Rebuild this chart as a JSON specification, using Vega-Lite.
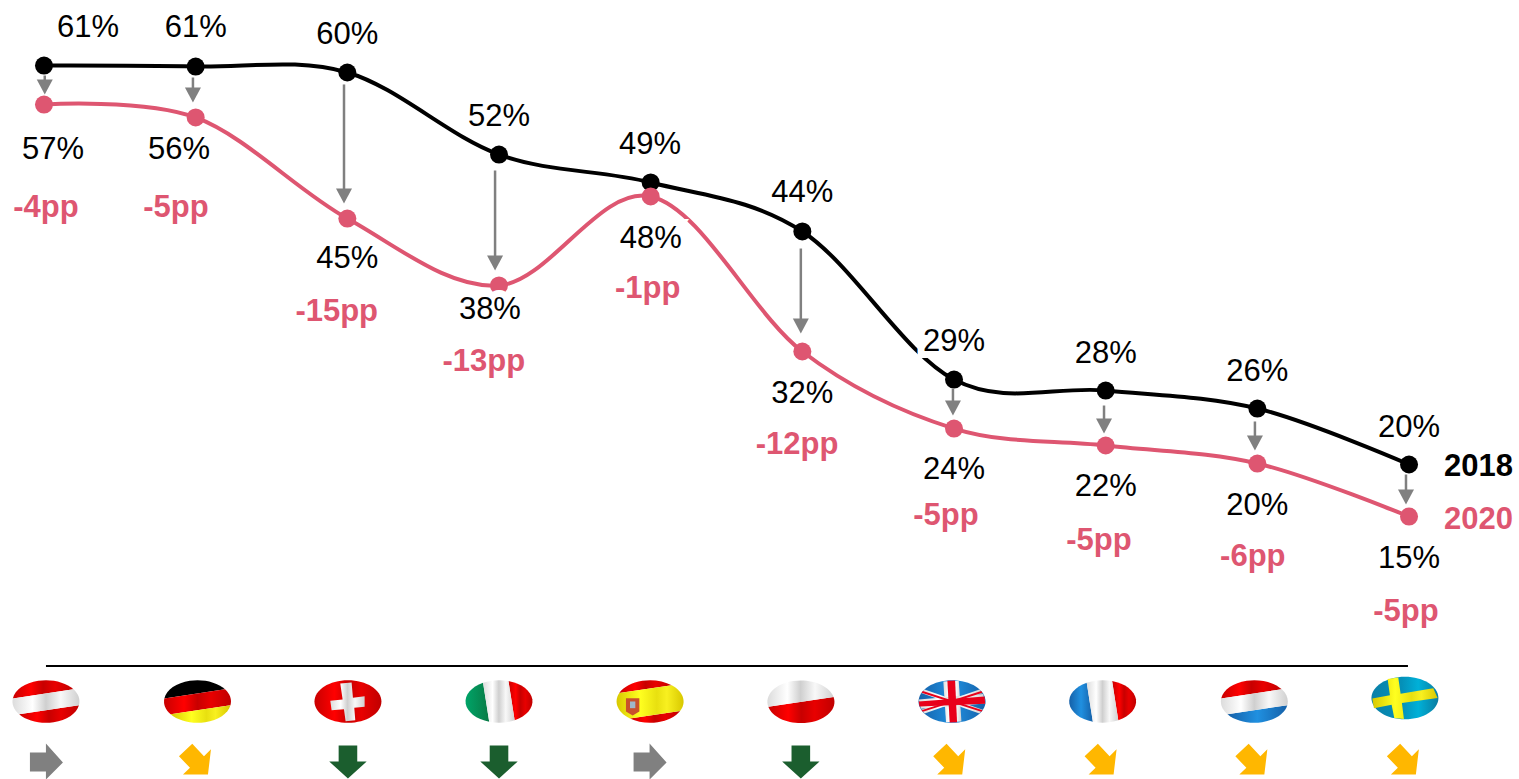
{"$schema":"https://vega.github.io/schema/vega-lite/v6.json","width":1519,"height":779,"padding":0,"autosize":{"type":"none"},"background":"white","config":{"view":{"stroke":null},"text":{"font":"Liberation Sans"}},
"datasets":{
"series":[
{"country":"Austria","pos":0,"series":"2018","level":60.71},{"country":"Germany","pos":1,"series":"2018","level":60.61},{"country":"Switzerland","pos":2,"series":"2018","level":60},{"country":"Italy","pos":3,"series":"2018","level":51.63},{"country":"Spain","pos":4,"series":"2018","level":48.78},{"country":"Poland","pos":5,"series":"2018","level":43.78},{"country":"UK","pos":6,"series":"2018","level":28.67},{"country":"France","pos":7,"series":"2018","level":27.55},{"country":"Netherlands","pos":8,"series":"2018","level":25.71},{"country":"Sweden","pos":9,"series":"2018","level":20},
{"country":"Austria","pos":0,"series":"2020","level":56.73},{"country":"Germany","pos":1,"series":"2020","level":55.41},{"country":"Switzerland","pos":2,"series":"2020","level":45.1},{"country":"Italy","pos":3,"series":"2020","level":38.27},{"country":"Spain","pos":4,"series":"2020","level":47.35},{"country":"Poland","pos":5,"series":"2020","level":31.53},{"country":"UK","pos":6,"series":"2020","level":23.67},{"country":"France","pos":7,"series":"2020","level":21.94},{"country":"Netherlands","pos":8,"series":"2020","level":20.1},{"country":"Sweden","pos":9,"series":"2020","level":14.69}],
"drops":[
{"country":"Austria","pos":0.005,"level":59.69,"tip":57.76},{"country":"Germany","pos":0.982,"level":59.49,"tip":56.94},{"country":"Switzerland","pos":1.978,"level":58.78,"tip":46.63},{"country":"Italy","pos":2.974,"level":50,"tip":39.8},{"country":"Poland","pos":4.99,"level":42.04,"tip":33.37},{"country":"UK","pos":5.993,"level":27.76,"tip":25},{"country":"France","pos":6.989,"level":26.02,"tip":23.16},{"country":"Netherlands","pos":7.984,"level":24.39,"tip":21.43},{"country":"Sweden","pos":8.98,"level":18.98,"tip":15.92}],
"labels":[
{"country":"Austria","kind":"v2018","pos":0.29,"level":64.69,"text":"61%"},{"country":"Germany","kind":"v2018","pos":1,"level":64.69,"text":"61%"},{"country":"Switzerland","kind":"v2018","pos":2,"level":63.98,"text":"60%"},{"country":"Italy","kind":"v2018","pos":3,"level":55.61,"text":"52%"},{"country":"Spain","kind":"v2018","pos":3.996,"level":52.76,"text":"49%"},{"country":"Poland","kind":"v2018","pos":5,"level":47.86,"text":"44%"},{"country":"UK","kind":"v2018","pos":6,"level":32.65,"text":"29%"},{"country":"France","kind":"v2018","pos":7,"level":31.43,"text":"28%"},{"country":"Netherlands","kind":"v2018","pos":8,"level":29.59,"text":"26%"},{"country":"Sweden","kind":"v2018","pos":9,"level":23.88,"text":"20%"},
{"country":"Austria","kind":"v2020","pos":0.059,"level":52.24,"text":"57%"},{"country":"Germany","kind":"v2020","pos":0.89,"level":52.24,"text":"56%"},{"country":"Switzerland","kind":"v2020","pos":2,"level":41.12,"text":"45%"},{"country":"Italy","kind":"v2020","pos":2.94,"level":35.92,"text":"38%"},{"country":"Spain","kind":"v2020","pos":4,"level":43.16,"text":"48%"},{"country":"Poland","kind":"v2020","pos":5,"level":27.35,"text":"32%"},{"country":"UK","kind":"v2020","pos":6,"level":19.59,"text":"24%"},{"country":"France","kind":"v2020","pos":7,"level":17.86,"text":"22%"},{"country":"Netherlands","kind":"v2020","pos":8,"level":15.92,"text":"20%"},{"country":"Sweden","kind":"v2020","pos":9,"level":10.51,"text":"15%"},
{"country":"Austria","kind":"change","pos":0.013,"level":46.33,"text":"-4pp"},{"country":"Germany","kind":"change","pos":0.87,"level":46.33,"text":"-5pp"},{"country":"Switzerland","kind":"change","pos":1.93,"level":35.71,"text":"-15pp"},{"country":"Italy","kind":"change","pos":2.9,"level":30.61,"text":"-13pp"},{"country":"Spain","kind":"change","pos":3.98,"level":38.06,"text":"-1pp"},{"country":"Poland","kind":"change","pos":4.965,"level":22.14,"text":"-12pp"},{"country":"UK","kind":"change","pos":5.947,"level":14.9,"text":"-5pp"},{"country":"France","kind":"change","pos":6.956,"level":12.35,"text":"-5pp"},{"country":"Netherlands","kind":"change","pos":7.97,"level":10.71,"text":"-6pp"},{"country":"Sweden","kind":"change","pos":8.98,"level":5.1,"text":"-5pp"}],
"years":[{"series":"2018","pos":9.23,"level":19.8},{"series":"2020","pos":9.23,"level":14.49}],
"base":[{"pos":0.013,"pos2":8.993,"level":-0.55}],
"trends":[
{"country":"Austria","trend":"flat","pos":0.016,"level":-10.41},{"country":"Germany","trend":"slight","pos":1.002,"level":-10.41},{"country":"Switzerland","trend":"strong","pos":2.004,"level":-10.41},{"country":"Italy","trend":"strong","pos":3,"level":-10.41},{"country":"Spain","trend":"flat","pos":3.996,"level":-10.41},{"country":"Poland","trend":"strong","pos":4.99,"level":-10.41},{"country":"UK","trend":"slight","pos":5.975,"level":-10.41},{"country":"France","trend":"slight","pos":6.973,"level":-10.41},{"country":"Netherlands","trend":"slight","pos":7.967,"level":-10.41},{"country":"Sweden","trend":"slight","pos":8.966,"level":-10.41}],
"flags":[
{"country":"Austria","pos":0.013,"level":-4.18,"part":"hTop","tone":"red"},{"country":"Austria","pos":0.013,"level":-4.18,"part":"hMid","tone":"white"},{"country":"Austria","pos":0.013,"level":-4.18,"part":"hBot","tone":"red"},
{"country":"Germany","pos":1.012,"level":-4.18,"part":"hTop","tone":"black"},{"country":"Germany","pos":1.012,"level":-4.18,"part":"hMid","tone":"red"},{"country":"Germany","pos":1.012,"level":-4.18,"part":"hBot","tone":"yellow"},
{"country":"Switzerland","pos":2.004,"level":-4.18,"part":"full","tone":"red"},{"country":"Switzerland","pos":2.004,"level":-4.18,"part":"swissCross","tone":"white"},
{"country":"Italy","pos":3,"level":-4.18,"part":"vLeft","tone":"green"},{"country":"Italy","pos":3,"level":-4.18,"part":"vMid","tone":"white"},{"country":"Italy","pos":3,"level":-4.18,"part":"vRight","tone":"red"},
{"country":"Spain","pos":3.996,"level":-4.18,"part":"spTop","tone":"red"},{"country":"Spain","pos":3.996,"level":-4.18,"part":"spMid","tone":"yellow"},{"country":"Spain","pos":3.996,"level":-4.18,"part":"spBot","tone":"red"},{"country":"Spain","pos":3.996,"level":-4.18,"part":"shield","tone":"emblem"},{"country":"Spain","pos":3.996,"level":-4.18,"part":"shieldInner","tone":"emblemInner"},
{"country":"Poland","pos":4.99,"level":-4.18,"part":"plTop","tone":"white"},{"country":"Poland","pos":4.99,"level":-4.18,"part":"plBot","tone":"red"},
{"country":"UK","pos":5.987,"level":-4.18,"part":"full","tone":"blue"},{"country":"UK","pos":5.987,"level":-4.18,"part":"ukDiagA","tone":"white"},{"country":"UK","pos":5.987,"level":-4.18,"part":"ukDiagB","tone":"white"},{"country":"UK","pos":5.987,"level":-4.18,"part":"ukWhiteV","tone":"white"},{"country":"UK","pos":5.987,"level":-4.18,"part":"ukWhiteH","tone":"white"},{"country":"UK","pos":5.987,"level":-4.18,"part":"ukThinA","tone":"ukRed"},{"country":"UK","pos":5.987,"level":-4.18,"part":"ukThinB","tone":"ukRed"},{"country":"UK","pos":5.987,"level":-4.18,"part":"ukRedV","tone":"ukRed"},{"country":"UK","pos":5.987,"level":-4.18,"part":"ukRedH","tone":"ukRed"},
{"country":"France","pos":6.98,"level":-4.18,"part":"vLeft","tone":"blue"},{"country":"France","pos":6.98,"level":-4.18,"part":"vMid","tone":"white"},{"country":"France","pos":6.98,"level":-4.18,"part":"vRight","tone":"red"},
{"country":"Netherlands","pos":7.98,"level":-4.18,"part":"hTop","tone":"red"},{"country":"Netherlands","pos":7.98,"level":-4.18,"part":"hMid","tone":"white"},{"country":"Netherlands","pos":7.98,"level":-4.18,"part":"hBot","tone":"blue"},
{"country":"Sweden","pos":8.973,"level":-3.83,"part":"full","tone":"sky"},{"country":"Sweden","pos":8.973,"level":-3.83,"part":"sweCross","tone":"yellow"}]
},
"encoding":{"x":{"field":"pos","type":"quantitative","axis":null,"scale":{"domain":[-0.2901,9.7251],"nice":false,"zero":false}},"y":{"field":"level","type":"quantitative","axis":null,"scale":{"domain":[-12.09,67.397],"nice":false,"zero":false}}},
"layer":[
{"data":{"name":"series"},"mark":{"type":"line","interpolate":"cardinal","tension":0,"strokeWidth":4},"encoding":{"color":{"field":"series","type":"nominal","legend":null,"scale":{"domain":["2018","2020"],"range":["#000000","#DE5671"]}},"detail":{"field":"series"}}},
{"data":{"name":"series"},"mark":{"type":"point","filled":true,"opacity":1,"size":324},"encoding":{"color":{"field":"series","type":"nominal","legend":null}}},
{"data":{"name":"drops"},"mark":{"type":"rule","color":"#808080","strokeWidth":2.5,"y2Offset":-8},"encoding":{"y2":{"field":"tip"}}},
{"data":{"name":"drops"},"mark":{"type":"point","filled":true,"opacity":1,"color":"#808080","size":256,"shape":"M-1,-1.875L1,-1.875L0,0Z"},"encoding":{"y":{"field":"tip","type":"quantitative"}}},
{"data":{"name":"labels"},"transform":[{"filter":"datum.kind==='v2020' && indexof(['Italy','Spain'],datum.country)>=0 || datum.kind==='v2018' && datum.country==='UK'"}],"mark":{"type":"text","fontSize":31,"font":"Liberation Sans","baseline":"middle","dy":1.5,"stroke":"white","strokeWidth":14,"strokeJoin":"miter","fill":"white"},"encoding":{"text":{"field":"text"}}},
{"data":{"name":"labels"},"transform":[{"filter":"datum.kind!=='change'"}],"mark":{"type":"text","fontSize":31,"font":"Liberation Sans","baseline":"middle","dy":1.5,"color":"#000000"},"encoding":{"text":{"field":"text"}}},
{"data":{"name":"labels"},"transform":[{"filter":"datum.kind==='change'"}],"mark":{"type":"text","fontSize":31,"font":"Liberation Sans","fontWeight":"bold","baseline":"middle","dy":1.5,"color":"#DE5671"},"encoding":{"text":{"field":"text"}}},
{"data":{"name":"years"},"mark":{"type":"text","fontSize":31,"font":"Liberation Sans","fontWeight":"bold","align":"left","baseline":"middle","dy":1},"encoding":{"text":{"field":"series"},"color":{"field":"series","type":"nominal","legend":null}}},
{"data":{"name":"base"},"mark":{"type":"rule","color":"#000000","strokeWidth":2},"encoding":{"x2":{"field":"pos2"}}},
{"data":{"name":"trends"},"transform":[{"filter":"datum.trend==='flat'"}],"mark":{"type":"point","filled":true,"opacity":1,"size":400,"color":"#808080","shape":"M-1.65,-1L-0.05,-1L-0.05,-1.9L1.65,0L-0.05,1.7L-0.05,0.9L-1.65,0.9Z"}},
{"data":{"name":"trends"},"transform":[{"filter":"datum.trend==='slight'"}],"mark":{"type":"point","filled":true,"opacity":1,"size":400,"color":"#FFB700","shape":"M-0.37,-1.87L0.8,-0.63L1.5,-1.33L1.2,1.2L-1.3,1.2L-0.6,0.53L-1.7,-0.63Z"}},
{"data":{"name":"trends"},"transform":[{"filter":"datum.trend==='strong'"}],"mark":{"type":"point","filled":true,"opacity":1,"size":400,"color":"#1B5E2E","shape":"M-0.93,-1.7L0.93,-1.7L0.93,-0.1L1.87,-0.1L0,1.6L-1.87,-0.1L-0.93,-0.1Z"}},
{"data":{"name":"flags"},
"encoding":{"shape":{"field":"part","type":"nominal","legend":null,"scale":{"domain":["full","hTop","hMid","hBot","vLeft","vMid","vRight","spTop","spMid","spBot","plTop","plBot","swissCross","sweCross","shield","shieldInner","ukDiagA","ukDiagB","ukWhiteV","ukWhiteH","ukThinA","ukThinB","ukRedV","ukRedH"],"range":[
"M-1,0A1,0.636 0 1 1 1,0A1,0.636 0 1 1 -1,0Z",
"M-0.989,-0.092L0.821,-0.363A1,0.636 0 0 0 -0.989,-0.092Z",
"M-0.989,-0.092L0.821,-0.363A1,0.636 0 0 1 0.984,0.112L-0.802,0.38A1,0.636 0 0 1 -0.989,-0.092Z",
"M-0.802,0.38L0.984,0.112A1,0.636 0 0 1 -0.802,0.38Z",
"M-0.4758,-0.5594L-0.2925,0.608A1,0.636 0 0 1 -0.4758,-0.5594Z",
"M-0.4758,-0.5594L-0.2925,0.608A1,0.636 0 0 0 0.4663,0.5625L0.2822,-0.61A1,0.636 0 0 0 -0.4758,-0.5594Z",
"M0.2822,-0.61L0.4663,0.5625A1,0.636 0 0 0 0.2822,-0.61Z",
"M-0.92,-0.25L0.647,-0.485A1,0.636 0 0 0 -0.92,-0.25Z",
"M-0.92,-0.25L0.647,-0.485A1,0.636 0 0 1 0.895,0.284L-0.601,0.508A1,0.636 0 0 1 -0.92,-0.25Z",
"M-0.601,0.508L0.895,0.284A1,0.636 0 0 1 -0.601,0.508Z",
"M-0.97,0.155L0.977,-0.137A1,0.636 0 1 0 -0.97,0.155Z",
"M-0.97,0.155L0.977,-0.137A1,0.636 0 0 1 -0.97,0.155Z",
"M-0.229,-0.537L0.109,-0.567L0.149,-0.109L0.498,-0.159L0.498,0.159L0.189,0.189L0.219,0.557L-0.07,0.587L-0.119,0.229L-0.488,0.259L-0.527,-0.02L-0.159,-0.06Z",
"M-0.517,-0.567L-0.199,-0.617L-0.129,-0.129L0.846,-0.289L0.975,0L-0.09,0.149L-0.03,0.627L-0.318,0.597L-0.398,0.199L-0.925,0.308L-0.975,0.01L-0.448,-0.08Z",
"M-0.72,-0.1L-0.32,-0.1L-0.32,0.3L-0.52,0.42L-0.72,0.3Z",
"M-0.6,0L-0.44,0L-0.44,0.2L-0.6,0.2Z",
"M-0.82,-0.36L-0.92,-0.25L0.82,0.36L0.92,0.25Z",
"M0.92,-0.25L0.82,-0.36L-0.92,0.25L-0.82,0.36Z",
"M-0.26,-0.6L0.2,-0.62L0.28,0.6L-0.18,0.62Z",
"M-0.99,-0.06L0.93,-0.22L0.99,0.06L-0.93,0.22Z",
"M-0.87,-0.31L-0.91,-0.26L0.87,0.31L0.91,0.26Z",
"M0.91,-0.26L0.87,-0.31L-0.91,0.26L-0.87,0.31Z",
"M-0.14,-0.62L0.09,-0.625L0.15,0.62L-0.07,0.63Z",
"M-0.995,0L0.97,-0.15L0.99,0.07L-0.97,0.15Z"]}}},
"layer":[
{"transform":[{"filter":"datum.tone==='blue'"}],"mark":{"type":"point","filled":true,"opacity":1,"size":4489,"strokeWidth":0,"fill":{"gradient":"linear","x1":0,"x2":1,"y1":0,"y2":0,"stops":[{"offset":0,"color":"#1560a8"},{"offset":0.5,"color":"#2090e0"},{"offset":1,"color":"#1560a8"}]}}},
{"transform":[{"filter":"datum.tone==='sky'"}],"mark":{"type":"point","filled":true,"opacity":1,"size":4489,"strokeWidth":0,"fill":{"gradient":"linear","x1":0,"x2":1,"y1":0,"y2":0,"stops":[{"offset":0,"color":"#0a80a8"},{"offset":0.45,"color":"#0590b8"},{"offset":0.7,"color":"#00b0d8"},{"offset":1,"color":"#0a7ca0"}]}}},
{"transform":[{"filter":"datum.tone==='green'"}],"mark":{"type":"point","filled":true,"opacity":1,"size":4489,"strokeWidth":0,"fill":{"gradient":"linear","x1":0,"x2":1,"y1":0,"y2":0,"stops":[{"offset":0,"color":"#00a468"},{"offset":1,"color":"#087a45"}]}}},
{"transform":[{"filter":"datum.tone==='black'"}],"mark":{"type":"point","filled":true,"opacity":1,"size":4489,"strokeWidth":0,"fill":"#000000"}},
{"transform":[{"filter":"datum.tone==='red'"}],"mark":{"type":"point","filled":true,"opacity":1,"size":4489,"strokeWidth":0,"fill":{"gradient":"linear","x1":0,"x2":1,"y1":0,"y2":0,"stops":[{"offset":0,"color":"#c80000"},{"offset":0.3,"color":"#ff0000"},{"offset":0.5,"color":"#c80000"},{"offset":0.7,"color":"#e80000"},{"offset":1,"color":"#c00000"}]}}},
{"transform":[{"filter":"datum.tone==='yellow'"}],"mark":{"type":"point","filled":true,"opacity":1,"size":4489,"strokeWidth":0,"fill":{"gradient":"linear","x1":0,"x2":1,"y1":0,"y2":0,"stops":[{"offset":0,"color":"#d8c800"},{"offset":0.35,"color":"#ffff20"},{"offset":0.6,"color":"#e8e010"},{"offset":0.75,"color":"#f8f020"},{"offset":1,"color":"#d8c800"}]}}},
{"transform":[{"filter":"datum.tone==='white'"}],"mark":{"type":"point","filled":true,"opacity":1,"size":4489,"strokeWidth":0,"fill":{"gradient":"linear","x1":0,"x2":1,"y1":0,"y2":0,"stops":[{"offset":0,"color":"#dcdcdc"},{"offset":0.3,"color":"#ffffff"},{"offset":0.5,"color":"#cfcfcf"},{"offset":0.72,"color":"#f8f8f8"},{"offset":1,"color":"#d0d0d0"}]}}},
{"transform":[{"filter":"datum.tone==='ukRed'"}],"mark":{"type":"point","filled":true,"opacity":1,"size":4489,"strokeWidth":0,"fill":"#e8001a"}},
{"transform":[{"filter":"datum.tone==='emblem'"}],"mark":{"type":"point","filled":true,"opacity":1,"size":4489,"strokeWidth":0,"fill":"#c9502c"}},
{"transform":[{"filter":"datum.tone==='emblemInner'"}],"mark":{"type":"point","filled":true,"opacity":1,"size":4489,"strokeWidth":0,"fill":"#9fb7c9"}}
]}
]}
